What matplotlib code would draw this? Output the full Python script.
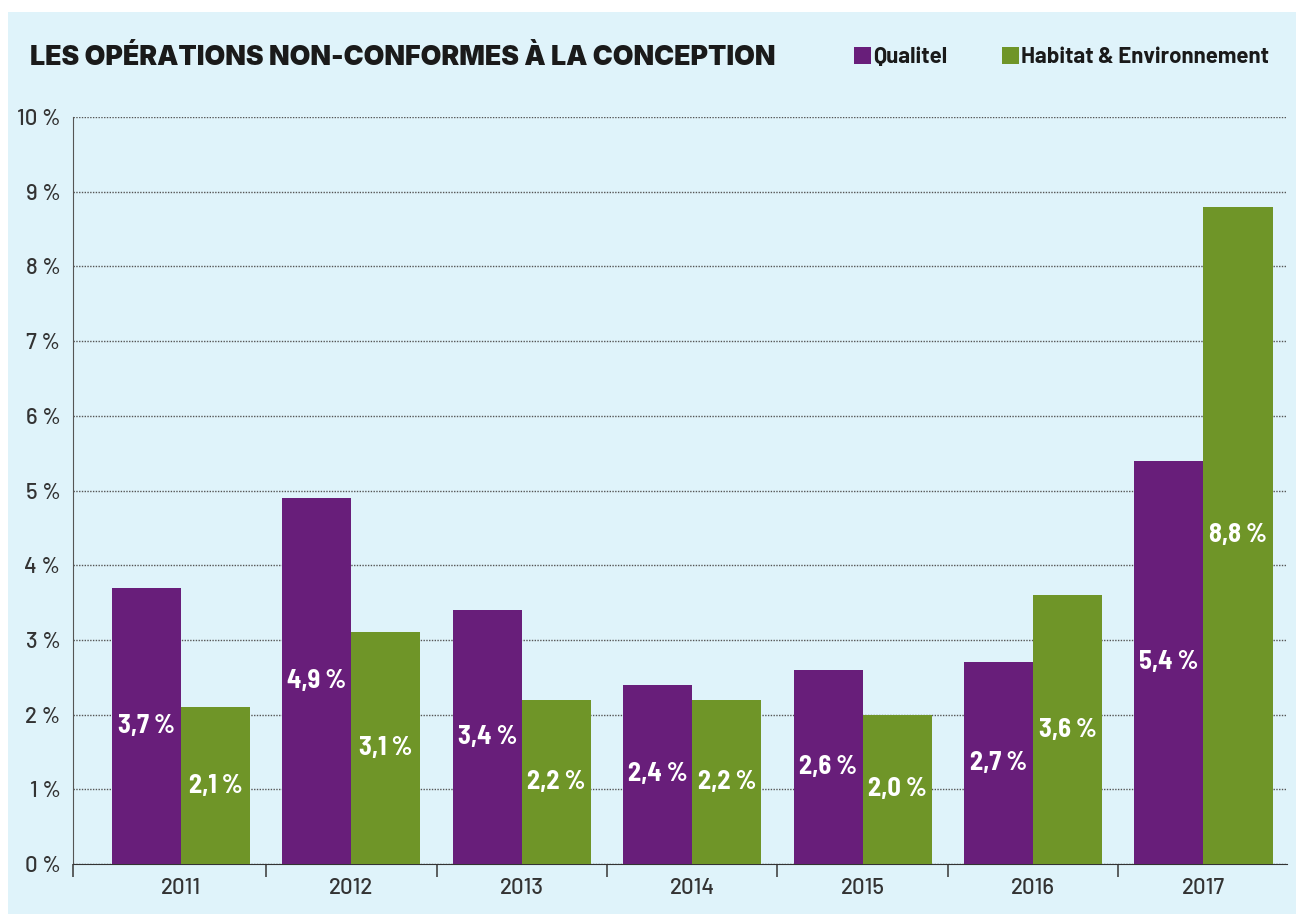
import matplotlib
matplotlib.use("Agg")
import matplotlib.pyplot as plt
from matplotlib.patches import Rectangle
import numpy as np

years = ["2011", "2012", "2013", "2014", "2015", "2016", "2017"]
qualitel = [3.7, 4.9, 3.4, 2.4, 2.6, 2.7, 5.4]
habitat = [2.1, 3.1, 2.2, 2.2, 2.0, 3.6, 8.8]
yticks = list(range(0, 11))
series_names = ["Qualitel", "Habitat & Environnement"]
title = "LES OPÉRATIONS NON-CONFORMES À LA CONCEPTION"

PURPLE = "#681e7a"
GREEN = "#6f9528"
BG = "#dff3fa"
COND = ["Barlow Semi Condensed", "Roboto Condensed", "IBM Plex Sans Condensed", "DejaVu Sans"]
REG = ["Barlow", "Roboto", "DejaVu Sans"]
TITLEF = ["Inter", "DejaVu Sans"]

fig = plt.figure(figsize=(12.96, 9.14), dpi=100, facecolor="white")
fig.patches.append(Rectangle((8 / 1296, 0), 1 - 8 / 1296, 1 - 12 / 914,
                             transform=fig.transFigure, facecolor=BG,
                             edgecolor="none", zorder=-10))

ax = fig.add_axes([73 / 1296, 1 - 864 / 914, (1287 - 73) / 1296, (864 - 117) / 914])
ax.set_facecolor("none")

x = np.arange(len(years))
w = 0.405
b1 = ax.bar(x - w / 2, qualitel, w, color=PURPLE, zorder=3)
b2 = ax.bar(x + w / 2, habitat, w, color=GREEN, zorder=3)

for bars, vals in ((b1, qualitel), (b2, habitat)):
    for r, v in zip(bars, vals):
        ax.text(r.get_x() + r.get_width() / 2, v / 2,
                f"{v:.1f}".replace(".", ",") + "\u2009%",
                ha="center", va="center", color="white", fontsize=19,
                fontweight="bold", family=COND, zorder=4)

ax.set_xlim(-0.633, len(years) - 1 + 0.49)
ax.set_ylim(0, 10)
ax.set_yticks(yticks)
ax.set_yticklabels([f"{t} %" for t in yticks], family=REG, fontsize=16,
                   fontweight=500, color="#333333")
ax.set_xticks(x)
ax.set_xticklabels(years, family=REG, fontsize=16, fontweight=500, color="#333333")
ax.tick_params(axis="x", which="major", length=0, pad=10)
ax.tick_params(axis="y", length=0, pad=9)
ax.set_xticks([-0.633] + [i + 0.5 for i in range(len(years) - 1)], minor=True)
ax.tick_params(axis="x", which="minor", length=9, width=1.2, color="#444444")

ax.yaxis.grid(True, linestyle=(0, (1, 1)), color="#555555", linewidth=1, zorder=1)
ax.set_axisbelow(True)
for s in ("top", "right"):
    ax.spines[s].set_visible(False)
ax.spines["left"].set_linestyle((0, (1, 1)))
ax.spines["left"].set_color("#555555")
ax.spines["bottom"].set_linestyle((0, (1, 1)))
ax.spines["bottom"].set_color("#333333")

fig.text(30 / 1296, 1 - 58 / 914, title, ha="left", va="center",
         fontsize=19.3, fontweight="black", family=TITLEF, color="#1a1a1a")

# legend
for lx, name, col in ((854, series_names[0], PURPLE), (1002, series_names[1], GREEN)):
    fig.patches.append(Rectangle((lx / 1296, 1 - 64 / 914), 17 / 1296, 17 / 914,
                                 transform=fig.transFigure, facecolor=col, edgecolor="none"))
    fig.text((lx + 19) / 1296, 1 - 57 / 914, name, ha="left", va="center",
             fontsize=16, fontweight="bold", family=REG, color="#1a1a1a")

fig.savefig("out.png", dpi=100, facecolor="white")
